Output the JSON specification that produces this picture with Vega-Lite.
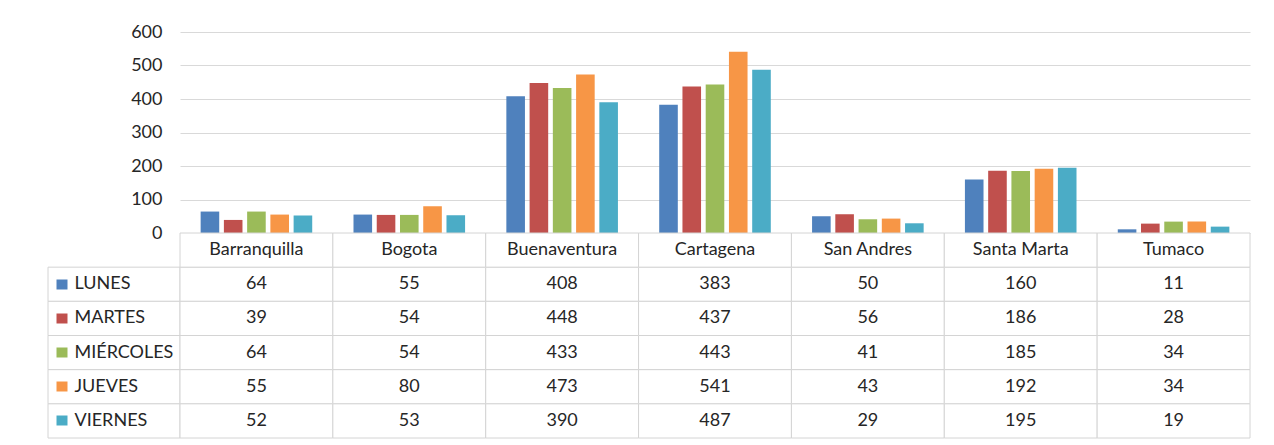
{
  "$schema": "https://vega.github.io/schema/vega-lite/v6.json",
  "background": "white",
  "padding": {"left": 47, "top": 23, "right": 5, "bottom": 5},
  "spacing": 0,
  "columns": 2,
  "bounds": "flush",
  "datasets": {
    "long": [
      {"city": "Barranquilla", "day": "LUNES", "v": 64},
      {"city": "Barranquilla", "day": "MARTES", "v": 39},
      {"city": "Barranquilla", "day": "MIÉRCOLES", "v": 64},
      {"city": "Barranquilla", "day": "JUEVES", "v": 55},
      {"city": "Barranquilla", "day": "VIERNES", "v": 52},
      {"city": "Bogota", "day": "LUNES", "v": 55},
      {"city": "Bogota", "day": "MARTES", "v": 54},
      {"city": "Bogota", "day": "MIÉRCOLES", "v": 54},
      {"city": "Bogota", "day": "JUEVES", "v": 80},
      {"city": "Bogota", "day": "VIERNES", "v": 53},
      {"city": "Buenaventura", "day": "LUNES", "v": 408},
      {"city": "Buenaventura", "day": "MARTES", "v": 448},
      {"city": "Buenaventura", "day": "MIÉRCOLES", "v": 433},
      {"city": "Buenaventura", "day": "JUEVES", "v": 473},
      {"city": "Buenaventura", "day": "VIERNES", "v": 390},
      {"city": "Cartagena", "day": "LUNES", "v": 383},
      {"city": "Cartagena", "day": "MARTES", "v": 437},
      {"city": "Cartagena", "day": "MIÉRCOLES", "v": 443},
      {"city": "Cartagena", "day": "JUEVES", "v": 541},
      {"city": "Cartagena", "day": "VIERNES", "v": 487},
      {"city": "San Andres", "day": "LUNES", "v": 50},
      {"city": "San Andres", "day": "MARTES", "v": 56},
      {"city": "San Andres", "day": "MIÉRCOLES", "v": 41},
      {"city": "San Andres", "day": "JUEVES", "v": 43},
      {"city": "San Andres", "day": "VIERNES", "v": 29},
      {"city": "Santa Marta", "day": "LUNES", "v": 160},
      {"city": "Santa Marta", "day": "MARTES", "v": 186},
      {"city": "Santa Marta", "day": "MIÉRCOLES", "v": 185},
      {"city": "Santa Marta", "day": "JUEVES", "v": 192},
      {"city": "Santa Marta", "day": "VIERNES", "v": 195},
      {"city": "Tumaco", "day": "LUNES", "v": 11},
      {"city": "Tumaco", "day": "MARTES", "v": 28},
      {"city": "Tumaco", "day": "MIÉRCOLES", "v": 34},
      {"city": "Tumaco", "day": "JUEVES", "v": 34},
      {"city": "Tumaco", "day": "VIERNES", "v": 19}
    ],
    "cities": [
      {"city": "Barranquilla"}, {"city": "Bogota"}, {"city": "Buenaventura"},
      {"city": "Cartagena"}, {"city": "San Andres"}, {"city": "Santa Marta"}, {"city": "Tumaco"}
    ],
    "days": [
      {"day": "LUNES"}, {"day": "MARTES"}, {"day": "MIÉRCOLES"}, {"day": "JUEVES"}, {"day": "VIERNES"}
    ]
  },
  "resolve": {"scale": {"x": "independent", "y": "independent"}},
  "concat": [
    {
      "width": 132,
      "height": 201,
      "data": {"values": [{}]},
      "mark": {"type": "point", "opacity": 0},
      "view": {"stroke": null}
    },
    {
      "width": 1070,
      "height": 201,
      "data": {"name": "long"},
      "view": {"stroke": null},
      "mark": {"type": "bar"},
      "encoding": {
        "x": {
          "field": "city", "type": "nominal", "sort": null,
          "scale": {"domain": ["Barranquilla", "Bogota", "Buenaventura", "Cartagena", "San Andres", "Santa Marta", "Tumaco"], "paddingInner": 0.27, "paddingOuter": 0.135},
          "axis": null
        },
        "xOffset": {
          "field": "day", "type": "nominal",
          "scale": {"domain": ["LUNES", "MARTES", "MIÉRCOLES", "JUEVES", "VIERNES"], "paddingInner": 0.2, "paddingOuter": 0}
        },
        "y": {
          "field": "v", "type": "quantitative",
          "scale": {"domain": [0, 600], "nice": false},
          "axis": {
            "title": null, "values": [0, 100, 200, 300, 400, 500, 600],
            "domain": false, "ticks": false, "labelPadding": 18,
            "grid": true, "gridColor": "#D9D9D9",
            "labelFont": "Lato", "labelFontSize": 18, "labelColor": "#262626"
          }
        },
        "color": {
          "field": "day", "type": "nominal",
          "scale": {"domain": ["LUNES", "MARTES", "MIÉRCOLES", "JUEVES", "VIERNES"], "range": ["#4F81BD", "#C0504D", "#9BBB59", "#F79646", "#4BACC6"]},
          "legend": null
        }
      }
    },
    {
      "width": 132,
      "height": 205,
      "data": {"name": "days"},
      "view": {"stroke": null},
      "mark": {"type": "rect", "fill": "white", "stroke": "#D4D4D4", "strokeWidth": 1},
      "encoding": {
        "y": {
          "field": "day", "type": "nominal",
          "scale": {"domain": ["HDR", "LUNES", "MARTES", "MIÉRCOLES", "JUEVES", "VIERNES"], "paddingInner": 0, "paddingOuter": 0},
          "axis": {
            "orient": "left", "title": null, "domain": false, "grid": false,
            "values": ["LUNES", "MARTES", "MIÉRCOLES", "JUEVES", "VIERNES"],
            "offset": -8, "tickSize": -11, "tickWidth": 10, "tickCap": "butt",
            "tickColor": {
              "condition": [
                {"test": "datum.value === 'LUNES'", "value": "#4F81BD"},
                {"test": "datum.value === 'MARTES'", "value": "#C0504D"},
                {"test": "datum.value === 'MIÉRCOLES'", "value": "#9BBB59"},
                {"test": "datum.value === 'JUEVES'", "value": "#F79646"}
              ],
              "value": "#4BACC6"
            },
            "labelAlign": "left", "labelPadding": -7, "labelBaseline": "middle",
            "labelFont": "Lato", "labelFontSize": 18, "labelColor": "#262626"
          }
        }
      }
    },
    {
      "width": 1070,
      "height": 205,
      "view": {"stroke": null},
      "encoding": {
        "x": {
          "field": "city", "type": "nominal", "sort": null,
          "scale": {"domain": ["Barranquilla", "Bogota", "Buenaventura", "Cartagena", "San Andres", "Santa Marta", "Tumaco"], "paddingInner": 0, "paddingOuter": 0},
          "axis": null
        }
      },
      "layer": [
        {
          "data": {"name": "long"},
          "mark": {"type": "rect", "fill": "white", "stroke": "#D4D4D4", "strokeWidth": 1},
          "encoding": {
            "y": {
              "field": "day", "type": "nominal",
              "scale": {"domain": ["HDR", "LUNES", "MARTES", "MIÉRCOLES", "JUEVES", "VIERNES"], "paddingInner": 0, "paddingOuter": 0},
              "axis": null
            }
          }
        },
        {
          "data": {"name": "cities"},
          "mark": {"type": "rect", "fill": "white", "stroke": "#D4D4D4", "strokeWidth": 1},
          "encoding": {"y": {"datum": "HDR", "type": "nominal"}}
        },
        {
          "data": {"name": "long"},
          "mark": {"type": "text", "font": "Lato", "fontSize": 18, "color": "#262626", "baseline": "middle"},
          "encoding": {
            "y": {"field": "day", "type": "nominal"},
            "text": {"field": "v", "type": "quantitative"}
          }
        },
        {
          "data": {"name": "cities"},
          "mark": {"type": "text", "font": "Lato", "fontSize": 18, "color": "#262626", "baseline": "middle"},
          "encoding": {
            "y": {"datum": "HDR", "type": "nominal"},
            "text": {"field": "city", "type": "nominal"}
          }
        }
      ]
    }
  ]
}
